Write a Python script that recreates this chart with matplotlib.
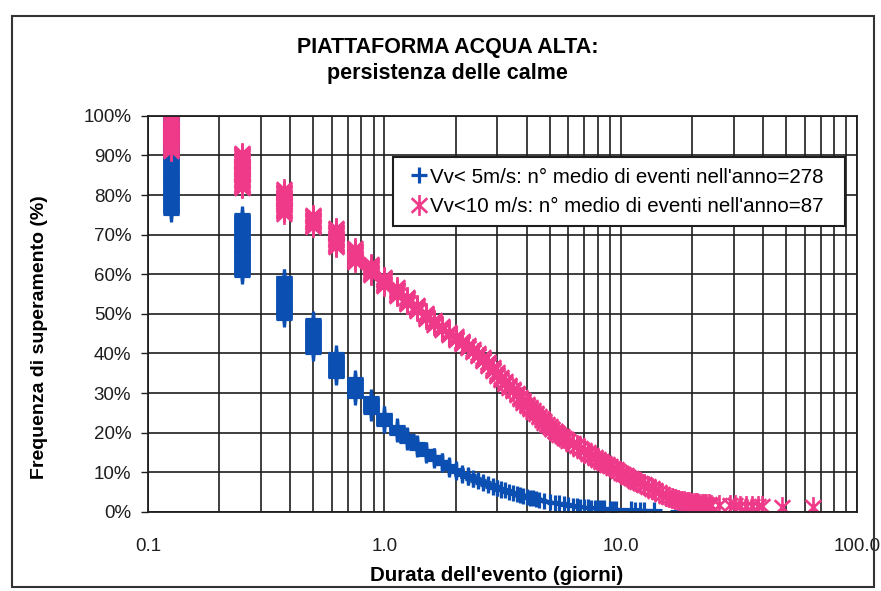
import numpy as np
import matplotlib
matplotlib.use('Agg')
import matplotlib.pyplot as plt
from matplotlib.path import Path
from matplotlib.patches import Rectangle
from matplotlib.ticker import FixedLocator, FuncFormatter, NullFormatter

# durata dell'evento (giorni) e frequenza di superamento (%) dell'ultimo evento di ogni classe
dur_5 = [0.125, 0.25, 0.375, 0.5, 0.625, 0.75, 0.875, 1.0, 1.125, 1.25, 1.375, 1.5,
         1.625, 1.75, 1.875, 2.0, 2.125, 2.25, 2.375, 2.5, 2.625, 2.75, 2.875, 3.0,
         3.125, 3.25, 3.375, 3.5, 3.625, 3.75, 3.875, 4.0, 4.125, 4.25, 4.375, 4.5,
         4.75, 5.0, 5.25, 5.5, 5.75, 6.0, 6.25, 6.5,
         6.75, 7.0, 7.25, 7.5, 7.75, 8.0, 8.25, 8.5, 9.0, 9.25, 9.5,
         11.0, 11.5, 12.0, 12.5, 13.75, 17.5]
frq_5 = [75.3, 59.6, 48.8, 40.2, 34.0, 29.1, 25.0, 21.9, 19.6, 17.6, 15.9, 14.4,
         13.1, 12.0, 10.9, 10.1, 9.4, 8.7, 8.2, 7.7, 7.2, 6.7, 6.3, 5.9,
         5.6, 5.3, 5.0, 4.7, 4.45, 4.2, 4.0, 3.8, 3.6, 3.4, 3.2, 3.0,
         2.7, 2.5, 2.3, 2.1, 1.9, 1.7, 1.55, 1.4,
         1.3, 1.2, 1.1, 1.05, 1.0, 0.95, 0.9, 0.85, 0.8, 0.75, 0.7,
         0.6, 0.55, 0.5, 0.45, 0.4, 0.3]

dur_10 = [0.125, 0.25, 0.375, 0.5, 0.625, 0.75, 0.875, 1.0, 1.125, 1.25, 1.375, 1.5,
          1.625, 1.75, 1.875, 2.0, 2.125, 2.25, 2.375, 2.5, 2.625, 2.75, 2.875, 3.0,
          3.125, 3.25, 3.375, 3.5, 3.625, 3.75, 3.875, 4.0, 4.125, 4.25, 4.375, 4.5,
          4.625, 4.75, 4.875, 5.0, 5.125, 5.25, 5.375, 5.5, 5.625, 5.75, 5.875, 6.0,
          6.25, 6.5, 6.75, 7.0, 7.25, 7.5, 7.75, 8.0, 8.25, 8.5, 8.75, 9.0,
          9.25, 9.5, 9.75, 10.0, 10.25, 10.5, 10.75, 11.0, 11.25, 11.5, 11.75, 12.0,
          12.5, 13.0, 13.5, 14.0, 14.5, 15.0, 15.5, 16.0, 16.5, 17.0, 17.5, 18.0,
          18.5, 19.0, 19.5, 20.0, 20.5, 21.0, 21.5, 22.0, 22.5, 23.0, 23.5, 24.0,
          26, 29, 30.5, 32, 34, 36, 38, 39.5, 48, 65]
frq_10 = [91.0, 81.7, 75.3, 71.9, 66.8, 63.0, 59.7, 57.0, 54.5, 52.5, 50.6, 48.8,
          47.3, 45.8, 44.6, 43.4, 42.3, 41.3, 40.3, 39.3, 38.1, 36.8, 35.5, 34.3,
          33.3, 32.3, 31.3, 30.4, 29.4, 28.5, 27.6, 26.8, 26.0, 25.3, 24.6, 23.9,
          23.2, 22.5, 21.9, 21.3, 20.8, 20.3, 19.8, 19.4, 19.0, 18.6, 18.2, 17.8,
          17.1, 16.5, 15.9, 15.3, 14.7, 14.2, 13.7, 13.2, 12.7, 12.3, 11.8, 11.4,
          11.0, 10.6, 10.2, 9.9, 9.5, 9.2, 8.8, 8.5, 8.2, 7.9, 7.6, 7.3,
          6.7, 6.2, 5.7, 5.2, 4.8, 4.4, 4.0, 3.7, 3.4, 3.2, 3.0, 2.8,
          2.65, 2.5, 2.4, 2.3, 2.2, 2.1, 2.05, 2.0, 1.95, 1.9, 1.85, 1.8,
          1.7, 1.65, 1.6, 1.55, 1.5, 1.45, 1.4, 1.35, 1.3, 1.2]

eventi_anno_5 = 278
eventi_anno_10 = 87

lab_5 = "Vv< 5m/s: n° medio di eventi nell'anno=%d" % eventi_anno_5
lab_10 = "Vv<10 m/s: n° medio di eventi nell'anno=%d" % eventi_anno_10

# distanza (in %) fra due eventi consecutivi della stessa classe
passo_5 = 0.2
passo_10 = 0.3


def punti(dur, frq, passo):
    # un punto per evento: gli eventi della stessa classe stanno in colonna
    xs, ys = [], []
    alto = 100.0
    for d, f in zip(dur, frq):
        top = max(alto, f)
        n = max(1, int(round((top - f) / passo)) + 1)
        xs += [d] * n
        ys += list(np.linspace(top, f, n))
        alto = f - passo
    return np.array(xs), np.array(ys)


# asterisco come quello di Excel (x + barra verticale)
star = Path([(0, -1), (0, 1), (-0.75, -0.7), (0.75, 0.7), (-0.75, 0.7), (0.75, -0.7)],
            [Path.MOVETO, Path.LINETO, Path.MOVETO, Path.LINETO, Path.MOVETO, Path.LINETO])

blu = '#0B4FB3'
rosa = '#EF3A8A'
plt.rcParams['font.family'] = ['Liberation Sans', 'DejaVu Sans']

fig = plt.figure(figsize=(8.81, 5.91), dpi=100)
ax = fig.add_axes([0.168, 0.134, 0.805, 0.670])

x5, y5 = punti(dur_5, frq_5, passo_5)
x10, y10 = punti(dur_10, frq_10, passo_10)
ax.plot(x5, y5, ls='none', marker='+', ms=11.5, mew=2.3, color=blu, label=lab_5)
ax.plot(x10, y10, ls='none', marker=star, ms=15, mew=1.9, color=rosa, label=lab_10)

ax.set_xscale('log')
ax.set_xlim(0.1, 100)
ax.set_ylim(0, 100)
ax.xaxis.set_major_locator(FixedLocator([0.1, 1, 10, 100]))
ax.xaxis.set_major_formatter(FuncFormatter(lambda v, p: '%.1f' % v))
ax.xaxis.set_minor_locator(FixedLocator([m * 10.0 ** e for e in (-1, 0, 1) for m in range(2, 10)]))
ax.xaxis.set_minor_formatter(NullFormatter())
ax.set_yticks(np.arange(0, 101, 10))
ax.yaxis.set_major_formatter(FuncFormatter(lambda v, p: '%d%%' % v))

ax.grid(True, which='both', axis='x', color='#1e1e1e', lw=1.2)
ax.grid(True, which='major', axis='y', color='#1e1e1e', lw=1.2)
ax.set_axisbelow(True)
for s in ax.spines.values():
    s.set_color('#1e1e1e')
    s.set_linewidth(1.3)
ax.tick_params(axis='y', which='major', length=5, width=1, pad=7, labelsize=13.5, colors='#1e1e1e')
ax.tick_params(axis='x', which='major', length=0, pad=19, labelsize=13.5, colors='#1e1e1e')
ax.tick_params(axis='x', which='minor', length=0)

leg = ax.legend(loc='upper left', bbox_to_anchor=(0.3455, 0.5, 0.6375, 0.395), mode='expand',
                fontsize=14.8, numpoints=1, handlelength=1.55, handletextpad=-0.25,
                borderpad=0.5, labelspacing=0.5, fancybox=False, framealpha=1,
                edgecolor='#1e1e1e', borderaxespad=0)
leg.get_frame().set_linewidth(1.5)

fig.text(0.508, 0.920, 'PIATTAFORMA ACQUA ALTA:', ha='center', va='center',
         fontsize=15.5, fontweight='bold')
fig.text(0.508, 0.876, 'persistenza delle calme', ha='center', va='center',
         fontsize=15.5, fontweight='bold')
fig.text(0.564, 0.027, "Durata dell'evento (giorni)", ha='center', va='center',
         fontsize=14.8, fontweight='bold')
fig.text(0.045, 0.43, 'Frequenza di superamento (%)', ha='center', va='center',
         rotation=90, fontsize=14, fontweight='bold')

# cornice del grafico
fig.patches.append(Rectangle((0.0136, 0.007), 0.979, 0.966, transform=fig.transFigure,
                             fill=False, lw=1.5, ec='#333333'))

fig.savefig('out.png', dpi=100)
